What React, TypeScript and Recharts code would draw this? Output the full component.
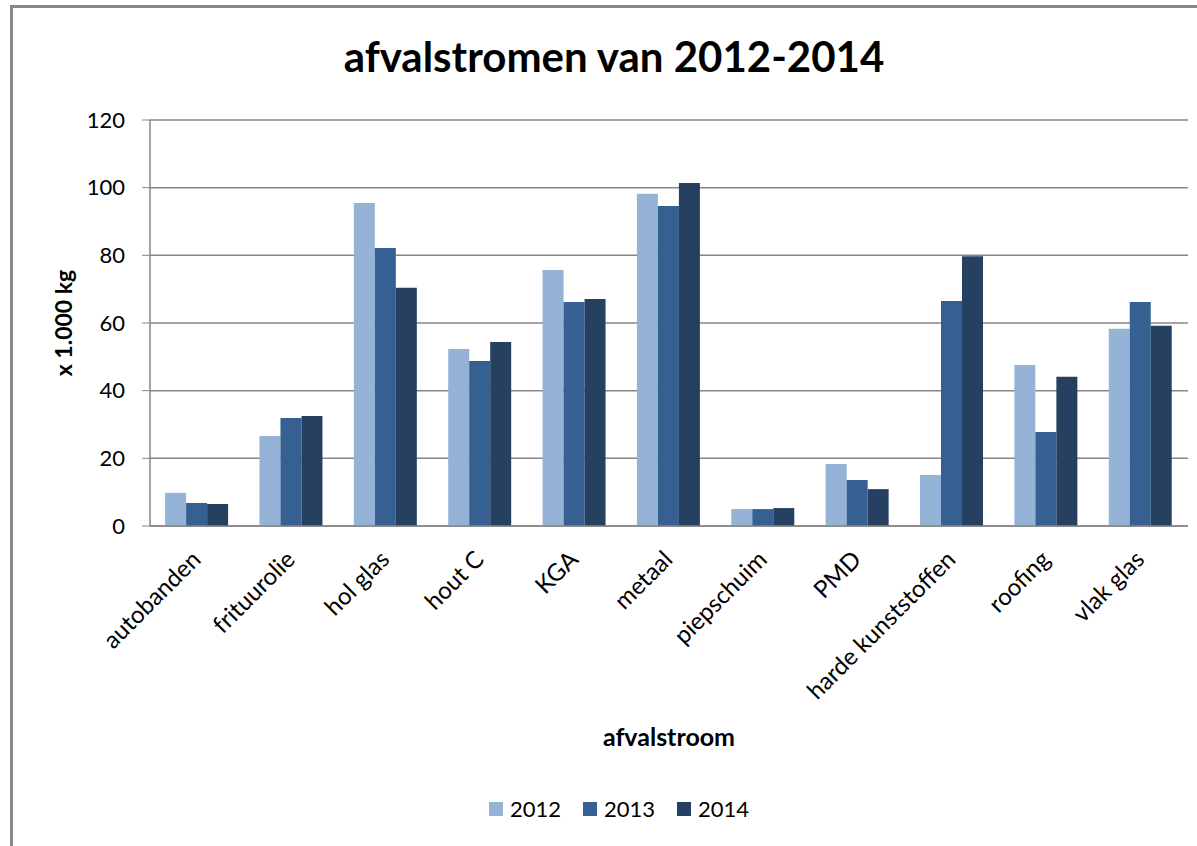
import { Bar, BarChart, CartesianGrid, Label, Legend, XAxis, YAxis } from 'recharts';

const categories = [
  'autobanden',
  'frituurolie',
  'hol glas',
  'hout C',
  'KGA',
  'metaal',
  'piepschuim',
  'PMD',
  'harde kunststoffen',
  'roofing',
  'vlak glas',
];

const values2012 = [9.8, 26.6, 95.5, 52.3, 75.7, 98.2, 5.0, 18.3, 15.1, 47.6, 58.3];
const values2013 = [6.8, 31.9, 82.2, 48.8, 66.2, 94.6, 5.0, 13.6, 66.5, 27.8, 66.2];
const values2014 = [6.5, 32.5, 70.4, 54.4, 67.1, 101.4, 5.3, 10.9, 79.7, 44.1, 59.2];

const yTicks = [0, 20, 40, 60, 80, 100, 120];

const series = [
  { key: '2012', color: '#95B3D7' },
  { key: '2013', color: '#366092' },
  { key: '2014', color: '#254061' },
];

const data = categories.map((name, i) => ({
  name,
  '2012': values2012[i],
  '2013': values2013[i],
  '2014': values2014[i],
}));

const FONT = "Lato, 'Liberation Sans', sans-serif";

function CategoryTick(props: any) {
  const { x, y, payload } = props;
  return (
    <g transform={`translate(${x + 5},${y + 35})`}>
      <text textAnchor="end" transform="rotate(-45)" fontSize={24} fill="#000" fontFamily={FONT}>
        {payload.value}
      </text>
    </g>
  );
}

function YTitle(props: any) {
  const { viewBox } = props;
  const cy = viewBox.y + viewBox.height / 2;
  return (
    <text
      x={63}
      y={cy}
      transform={`rotate(-90, 63, ${cy})`}
      textAnchor="middle"
      dominantBaseline="central"
      fontSize={23}
      fontWeight="bold"
      fill="#000"
      fontFamily={FONT}
    >
      x 1.000 kg
    </text>
  );
}

function LegendRow() {
  return (
    <div style={{ display: 'flex', justifyContent: 'center', fontFamily: FONT, fontSize: 22, color: '#000' }}>
      {series.map((s) => (
        <div key={s.key} style={{ display: 'flex', alignItems: 'center', margin: '0 11px' }}>
          <span style={{ width: 14, height: 14, background: s.color, marginRight: 7, display: 'inline-block' }} />
          <span>{s.key}</span>
        </div>
      ))}
    </div>
  );
}

export default function App() {
  return (
    <div style={{ position: 'absolute', left: 0, top: 0, width: 1197, height: 846, background: '#fff' }}>
      <div style={{ position: 'absolute', left: 10, top: 5, width: 1187, height: 3, background: '#888' }} />
      <div style={{ position: 'absolute', left: 10, top: 5, width: 3, height: 841, background: '#888' }} />
      <div
        style={{
          position: 'absolute',
          left: 0,
          top: 31,
          width: 1228,
          textAlign: 'center',
          fontFamily: FONT,
          fontWeight: 'bold',
          fontSize: 42,
          lineHeight: '50px',
          color: '#000',
        }}
      >
        afvalstromen van 2012-2014
      </div>
      <BarChart
        width={1197}
        height={846}
        data={data}
        margin={{ top: 120, right: 9, left: 0, bottom: 0 }}
        barCategoryGap="16%"
        barGap={0}
      >
        <CartesianGrid vertical={false} stroke="#868686" strokeWidth={1.5} />
        <XAxis
          dataKey="name"
          height={320}
          interval={0}
          tick={<CategoryTick />}
          tickLine={false}
          tickSize={0}
          tickMargin={0}
          axisLine={{ stroke: '#868686', strokeWidth: 1.5 }}
        >
          <Label
            value="afvalstroom"
            position="insideBottom"
            offset={100}
            fontSize={25}
            fontWeight="bold"
            fill="#000"
            fontFamily={FONT}
          />
        </XAxis>
        <YAxis
          width={150}
          domain={[0, 120]}
          ticks={yTicks}
          tickSize={8}
          tickMargin={17}
          tick={{ fontSize: 22, fill: '#000', fontFamily: FONT }}
          tickLine={{ stroke: '#868686' }}
          axisLine={{ stroke: '#868686', strokeWidth: 1.5 }}
        >
          <Label content={<YTitle />} />
        </YAxis>
        <Legend
          verticalAlign="middle"
          align="center"
          layout="horizontal"
          wrapperStyle={{ top: 795, left: 0, width: 1238 }}
          content={<LegendRow />}
        />
        {series.map((s) => (
          <Bar key={s.key} dataKey={s.key} fill={s.color} isAnimationActive={false} />
        ))}
      </BarChart>
    </div>
  );
}
